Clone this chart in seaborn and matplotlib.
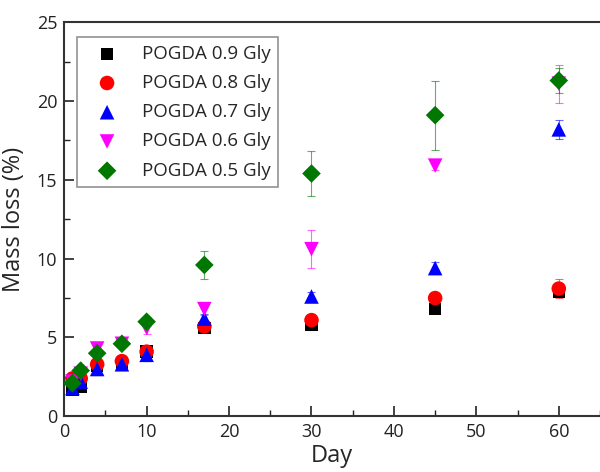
import numpy as np
import pandas as pd
import matplotlib
matplotlib.use("Agg")
import matplotlib.pyplot as plt
from matplotlib.ticker import MultipleLocator
import seaborn as sns

days = [1, 2, 4, 7, 10, 17, 30, 45, 60]
groups = ["POGDA 0.9 Gly", "POGDA 0.8 Gly", "POGDA 0.7 Gly", "POGDA 0.6 Gly", "POGDA 0.5 Gly"]

loss_09 = [1.7, 1.9, 3.2, 3.3, 4.1, 5.6, 5.8, 6.8, 7.9]
loss_08 = [2.4, 2.4, 3.3, 3.5, 4.1, 5.7, 6.1, 7.5, 8.1]
loss_07 = [1.8, 2.2, 3.0, 3.3, 3.9, 6.2, 7.6, 9.4, 18.2]
loss_06 = [2.2, 2.7, 4.3, 4.6, 5.6, 6.8, 10.6, 15.9, 21.1]
loss_05 = [2.1, 2.9, 4.0, 4.6, 6.0, 9.6, 15.4, 19.1, 21.3]

err_09 = [0.2, 0.2, 0.2, 0.2, 0.2, 0.2, 0.3, 0.2, 0.3]
err_08 = [0.3, 0.3, 0.3, 0.3, 0.3, 0.3, 0.4, 0.2, 0.6]
err_07 = [0.2, 0.2, 0.4, 0.3, 0.4, 0.3, 0.3, 0.4, 0.6]
err_06 = [0.3, 0.2, 0.3, 0.2, 0.4, 0.4, 1.2, 0.3, 1.2]
err_05 = [0.3, 0.2, 0.3, 0.2, 0.3, 0.9, 1.4, 2.2, 0.8]

colors = ["#000000", "#ff0000", "#0000ff", "#ff00ff", "#007700"]
markers = ["s", "o", "^", "v", "D"]
sizes = [80, 110, 110, 110, 90]

losses = [loss_09, loss_08, loss_07, loss_06, loss_05]
errs = [err_09, err_08, err_07, err_06, err_05]

df = pd.DataFrame({
    "day": days * len(groups),
    "loss": sum(losses, []),
    "err": sum(errs, []),
    "group": np.repeat(groups, len(days)),
})

sns.set_style("ticks")
plt.rcParams["font.family"] = ["Open Sans", "DejaVu Sans"]

fig = plt.figure(figsize=(6, 4.72), dpi=100)
ax = fig.add_axes([0.107, 0.118, 0.893, 0.835])

for g, c, m, s in zip(groups, colors, markers, sizes):
    sub = df[df["group"] == g]
    ax.errorbar(sub["day"], sub["loss"], yerr=sub["err"], fmt="none",
                ecolor=c, elinewidth=0.8, capsize=3, capthick=0.8, alpha=0.6)
    sns.scatterplot(data=sub, x="day", y="loss", color=c, marker=m, s=s,
                    edgecolor="none", label=g, ax=ax, zorder=3)

ax.set_xlim(0, 65)
ax.set_ylim(0, 25)
ax.xaxis.set_major_locator(MultipleLocator(10))
ax.xaxis.set_minor_locator(MultipleLocator(5))
ax.yaxis.set_major_locator(MultipleLocator(5))
ax.yaxis.set_minor_locator(MultipleLocator(2.5))
ax.tick_params(which="major", direction="in", length=7, width=1.2, labelsize=13,
               colors="#222222", pad=5)
ax.tick_params(which="minor", direction="in", length=4, width=1.0, colors="#222222")
ax.tick_params(top=False, right=False, which="both")
for side in ["left", "bottom", "top"]:
    ax.spines[side].set_linewidth(1.5)
    ax.spines[side].set_color("#333333")
ax.spines["right"].set_visible(False)

ax.set_xlabel("Day", fontsize=17, labelpad=2)
ax.set_ylabel("Mass loss (%)", fontsize=17, labelpad=8)

leg = ax.legend(loc="upper left", bbox_to_anchor=(0.024, 0.962), fontsize=13.5,
                frameon=True, fancybox=False, edgecolor="#777777",
                handletextpad=0.65, borderpad=0.4, labelspacing=0.6,
                handlelength=2.4, borderaxespad=0)
leg.get_frame().set_linewidth(1.2)

fig.savefig("out.png", dpi=100)
